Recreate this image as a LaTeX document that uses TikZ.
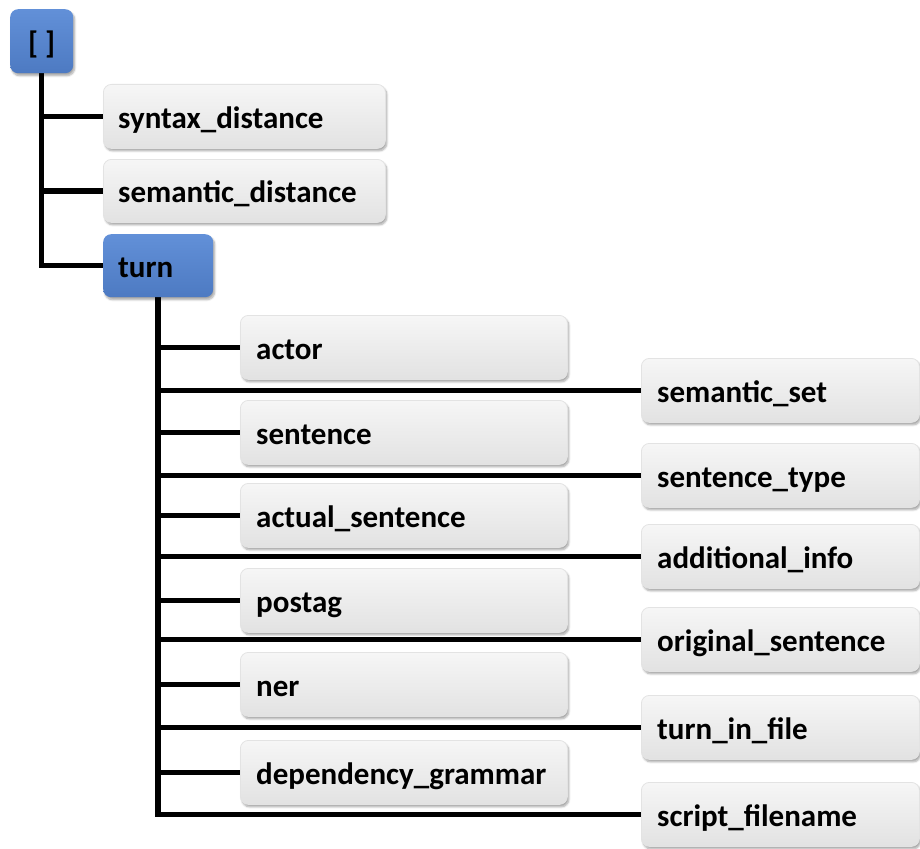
\documentclass[tikz,border=0pt]{standalone}
\usepackage{fontspec}
\setmainfont{Carlito}
\usetikzlibrary{shadows.blur,backgrounds}
\definecolor{bluetop}{HTML}{6290D8}
\definecolor{bluebot}{HTML}{4D7AC2}
\definecolor{graytop}{HTML}{F6F6F6}
\definecolor{graybot}{HTML}{E2E2E2}
\tikzset{
  boxbase/.style={rectangle, rounded corners=8pt, anchor=north west, inner sep=0pt,
    blur shadow={shadow xshift=1.5pt, shadow yshift=-2.5pt, shadow blur steps=6, shadow opacity=35}},
  graybox/.style={boxbase, top color=graytop, bottom color=graybot, draw=gray!22, line width=0.8pt},
  bluebox/.style={boxbase, top color=bluetop, bottom color=bluebot},
  lbl/.style={font=\bfseries\fontsize{31}{37}\selectfont, anchor=base west, inner sep=0pt},
  conn/.style={line width=5.5pt, draw=black, line join=miter},
  leftbox/.style={graybox, minimum width=327pt, minimum height=64pt},
  rightbox/.style={graybox, minimum width=278pt, minimum height=64pt},
}
\begin{document}
\begin{tikzpicture}[x=1pt,y=-1pt]
\useasboundingbox (0,0) rectangle (920,848);

% top level
\node[bluebox, minimum width=63pt, minimum height=64pt] (root) at (10,9) {};
\node[lbl, anchor=base] (root-t) at ([yshift=-12pt]root.center) {[ ]};

\node[graybox, minimum width=282pt, minimum height=64pt] (syn) at (103,84) {};
\node[lbl] (syn-t) at ([xshift=15pt,yshift=-12pt]syn.west) {syntax\_distance};

\node[graybox, minimum width=282pt, minimum height=63pt] (sem) at (103,159) {};
\node[lbl] (sem-t) at ([xshift=15pt,yshift=-12pt]sem.west) {semantic\_distance};

\node[bluebox, minimum width=110pt, minimum height=63pt] (turn) at (103,234) {};
\node[lbl] (turn-t) at ([xshift=15pt,yshift=-12pt]turn.west) {turn};

% children of turn, left column
\node[leftbox] (actor) at (240,315) {};
\node[lbl] (actor-t) at ([xshift=16pt,yshift=-12pt]actor.west) {actor};
\node[leftbox] (sent) at (240,400) {};
\node[lbl] (sent-t) at ([xshift=16pt,yshift=-12pt]sent.west) {sentence};
\node[leftbox] (actual) at (240,483) {};
\node[lbl] (actual-t) at ([xshift=16pt,yshift=-12pt]actual.west) {actual\_sentence};
\node[leftbox] (postag) at (240,568) {};
\node[lbl] (postag-t) at ([xshift=16pt,yshift=-12pt]postag.west) {postag};
\node[leftbox] (ner) at (240,652) {};
\node[lbl] (ner-t) at ([xshift=16pt,yshift=-12pt]ner.west) {ner};
\node[leftbox] (dep) at (240,740) {};
\node[lbl] (dep-t) at ([xshift=16pt,yshift=-12pt]dep.west) {dependency\_grammar};

% children of turn, right column
\node[rightbox] (semset) at (641,358) {};
\node[lbl] (semset-t) at ([xshift=16pt,yshift=-12pt]semset.west) {semantic\_set};
\node[rightbox] (stype) at (641,443) {};
\node[lbl] (stype-t) at ([xshift=16pt,yshift=-12pt]stype.west) {sentence\_type};
\node[rightbox] (addinfo) at (641,524) {};
\node[lbl] (addinfo-t) at ([xshift=16pt,yshift=-12pt]addinfo.west) {additional\_info};
\node[rightbox] (orig) at (641,607) {};
\node[lbl] (orig-t) at ([xshift=16pt,yshift=-12pt]orig.west) {original\_sentence};
\node[rightbox] (tif) at (641,695) {};
\node[lbl] (tif-t) at ([xshift=16pt,yshift=-12pt]tif.west) {turn\_in\_file};
\node[rightbox] (script) at (641,782) {};
\node[lbl] (script-t) at ([xshift=16pt,yshift=-12pt]script.west) {script\_filename};

% tree connectors
\begin{scope}[on background layer]
  \foreach \c in {syn,sem,turn} \draw[conn] (root.south) |- (\c.west);
  \foreach \c in {actor,sent,actual,postag,ner,dep,semset,stype,addinfo,orig,tif,script}
    \draw[conn] (turn.south) |- (\c.west);
\end{scope}
\end{tikzpicture}
\end{document}
